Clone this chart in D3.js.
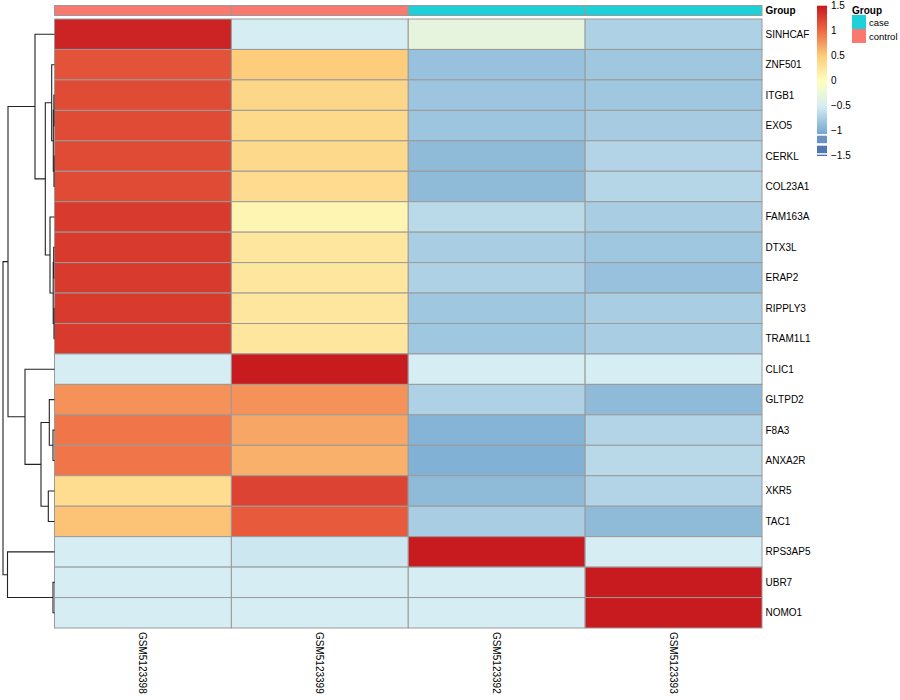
<!DOCTYPE html>
<html>
<head>
<meta charset="utf-8">
<script src="https://cdn.jsdelivr.net/npm/d3@7"></script>
<style>
  html, body { margin: 0; padding: 0; background: #fff; }
  svg { display: block; font-family: Arial, "Liberation Sans", sans-serif; }
</style>
</head>
<body>
<svg id="chart" width="900" height="700"></svg>
<script>
// ---------------- DATA ----------------
const genes = ["SINHCAF","ZNF501","ITGB1","EXO5","CERKL","COL23A1","FAM163A","DTX3L","ERAP2","RIPPLY3",
               "TRAM1L1","CLIC1","GLTPD2","F8A3","ANXA2R","XKR5","TAC1","RPS3AP5","UBR7","NOMO1"];
const samples = ["GSM5123398","GSM5123399","GSM5123392","GSM5123393"];
const sampleGroup = ["control","control","case","case"];
// row-scaled expression, one array per sample (column)
const GSM5123398 = [1.45, 1.15, 1.2, 1.2, 1.2, 1.2, 1.3, 1.3, 1.3, 1.3, 1.3, -0.5, 0.8, 0.95, 0.95, 0.35, 0.55, -0.5, -0.5, -0.5];
const GSM5123399 = [-0.5, 0.5, 0.4, 0.38, 0.38, 0.36, 0.1, 0.25, 0.25, 0.25, 0.25, 1.5, 0.8, 0.7, 0.65, 1.25, 1.1, -0.55, -0.5, -0.5];
const GSM5123392 = [-0.3, -0.85, -0.82, -0.82, -0.9, -0.9, -0.65, -0.75, -0.72, -0.8, -0.8, -0.5, -0.72, -0.95, -0.98, -0.9, -0.75, 1.5, -0.5, -0.5];
const GSM5123393 = [-0.72, -0.8, -0.8, -0.76, -0.7, -0.68, -0.75, -0.8, -0.85, -0.75, -0.75, -0.5, -0.9, -0.7, -0.66, -0.7, -0.9, -0.5, 1.5, 1.5];
const columnValues = [GSM5123398, GSM5123399, GSM5123392, GSM5123393];

// colour scale stops
const colorStops = [-1.5, -1.0, -0.5, 0, 0.5, 1.0, 1.5];
const colorHex   = ["#3E64AA", "#7DAED3", "#D5EDF3", "#FFFFBF", "#FDCD7C", "#EF6B43", "#C81B20"];
const legendTicks = [1.5, 1, 0.5, 0, -0.5, -1, -1.5];

const groupNames = ["case", "control"];
const groupColors = ["#1ED1D8", "#F9786F"];

// row dendrogram: [mergeHeight, left, right]
const rowTree =
  [51.5,
    [46.5,
      [19.5,
        "SINHCAF",
        [9.2,
          [2.8, "ZNF501", [1.2, [0.6, "ITGB1", "EXO5"], [0.5, "CERKL", "COL23A1"]]],
          [4.5, "FAM163A", [1.3, [0.8, "DTX3L", "ERAP2"], [0.5, "RIPPLY3", "TRAM1L1"]]]
        ]
      ],
      [29.5,
        "CLIC1",
        [13.5,
          [5.2, "GLTPD2", [1.5, "F8A3", "ANXA2R"]],
          [6.2, "XKR5", "TAC1"]
        ]
      ]
    ],
    [47, "RPS3AP5", [1.5, "UBR7", "NOMO1"]]
  ];

// ---------------- LAYOUT ----------------
const svg = d3.select("#chart");
const hmLeft = 54.5, hmRight = 762, hmTop = 19, hmBottom = 628;
const annTop = 5.5, annBottom = 15.5;

const x = d3.scaleBand().domain(samples).range([hmLeft, hmRight]);
const y = d3.scaleBand().domain(genes).range([hmTop, hmBottom]);
const color = d3.scaleLinear().domain(colorStops).range(colorHex).clamp(true);
const groupColor = d3.scaleOrdinal().domain(groupNames).range(groupColors);
const hScale = d3.scaleLinear().domain([0, 51.5]).range([hmLeft, 3]);

// ---------------- HEATMAP CELLS ----------------
const cells = [];
samples.forEach((s, j) => genes.forEach((g, i) => cells.push({ s, g, v: columnValues[j][i] })));
svg.append("g").selectAll("rect").data(cells).join("rect")
  .attr("x", d => x(d.s)).attr("y", d => y(d.g))
  .attr("width", x.bandwidth()).attr("height", y.bandwidth())
  .attr("fill", d => color(d.v))
  .attr("stroke", "#9a9a9a").attr("stroke-width", 1);

// ---------------- ANNOTATION BAR ----------------
svg.append("g").selectAll("rect").data(samples).join("rect")
  .attr("x", d => x(d)).attr("y", annTop)
  .attr("width", x.bandwidth()).attr("height", annBottom - annTop)
  .attr("fill", (d, i) => groupColor(sampleGroup[i]))
  .attr("stroke", "#9a9a9a").attr("stroke-width", 1);

svg.append("text").attr("x", hmRight + 3.5).attr("y", (annTop + annBottom) / 2)
  .attr("dominant-baseline", "central").attr("font-size", 10).attr("font-weight", "bold")
  .text("Group");

// ---------------- ROW LABELS ----------------
svg.append("g").selectAll("text").data(genes).join("text")
  .attr("x", hmRight + 3.5).attr("y", d => y(d) + y.bandwidth() / 2)
  .attr("dominant-baseline", "central").attr("font-size", 10)
  .text(d => d);

// ---------------- COLUMN LABELS ----------------
svg.append("g").selectAll("text").data(samples).join("text")
  .attr("transform", d => `translate(${x(d) + x.bandwidth() / 2},${hmBottom + 4}) rotate(90)`)
  .attr("dominant-baseline", "central").attr("font-size", 10)
  .text(d => d);

// ---------------- ROW DENDROGRAM ----------------
const dg = svg.append("g").attr("fill", "none").attr("stroke", "#222").attr("stroke-width", 1.1);
function layout(node) {
  if (typeof node === "string") return { x: hScale(0), y: y(node) + y.bandwidth() / 2 };
  const l = layout(node[1]), r = layout(node[2]);
  const nx = hScale(node[0]);
  dg.append("path").attr("d", `M${l.x},${l.y}H${nx}V${r.y}H${r.x}`);
  return { x: nx, y: (l.y + r.y) / 2 };
}
layout(rowTree);

// ---------------- COLOUR LEGEND ----------------
const legX = 817, legW = 10;
const legY = d3.scaleLinear().domain([1.5, -1.5]).range([5.7, 155.7]);
const lg = svg.append("g");
const gradSteps = d3.range(1.5, -1.06, -0.02);
lg.selectAll("rect.g").data(gradSteps).join("rect").attr("class", "g")
  .attr("x", legX).attr("y", d => legY(d)).attr("width", legW)
  .attr("height", Math.abs(legY(-0.02) - legY(0)) + 0.3)
  .attr("fill", d => color(d));
const blocks = [[-1.1, -1.25], [-1.3, -1.45]];
lg.selectAll("rect.b").data(blocks).join("rect").attr("class", "b")
  .attr("x", legX).attr("y", d => legY(d[0])).attr("width", legW)
  .attr("height", d => legY(d[1]) - legY(d[0]))
  .attr("fill", d => color((d[0] + d[1]) / 2));
lg.append("rect").attr("x", legX).attr("y", legY(-1.48)).attr("width", legW).attr("height", 1.2)
  .attr("fill", color(-1.5));
lg.selectAll("text").data(legendTicks).join("text")
  .attr("x", legX + legW + 4).attr("y", d => legY(d))
  .attr("dominant-baseline", "central").attr("font-size", 10)
  .text(d => d3.format("")(d));

// ---------------- GROUP LEGEND ----------------
const gx = 852;
svg.append("text").attr("x", gx).attr("y", 10).attr("dominant-baseline", "central")
  .attr("font-size", 10).attr("font-weight", "bold").text("Group");
const gy = d3.scaleBand().domain(groupNames).range([15, 43]);
svg.append("g").selectAll("rect").data(groupNames).join("rect")
  .attr("x", gx).attr("y", d => gy(d)).attr("width", 14).attr("height", gy.bandwidth())
  .attr("fill", d => groupColor(d));
svg.append("g").selectAll("text").data(groupNames).join("text")
  .attr("x", gx + 17).attr("y", d => gy(d) + gy.bandwidth() / 2)
  .attr("dominant-baseline", "central").attr("font-size", 9.5)
  .text(d => d);
</script>
</body>
</html>
